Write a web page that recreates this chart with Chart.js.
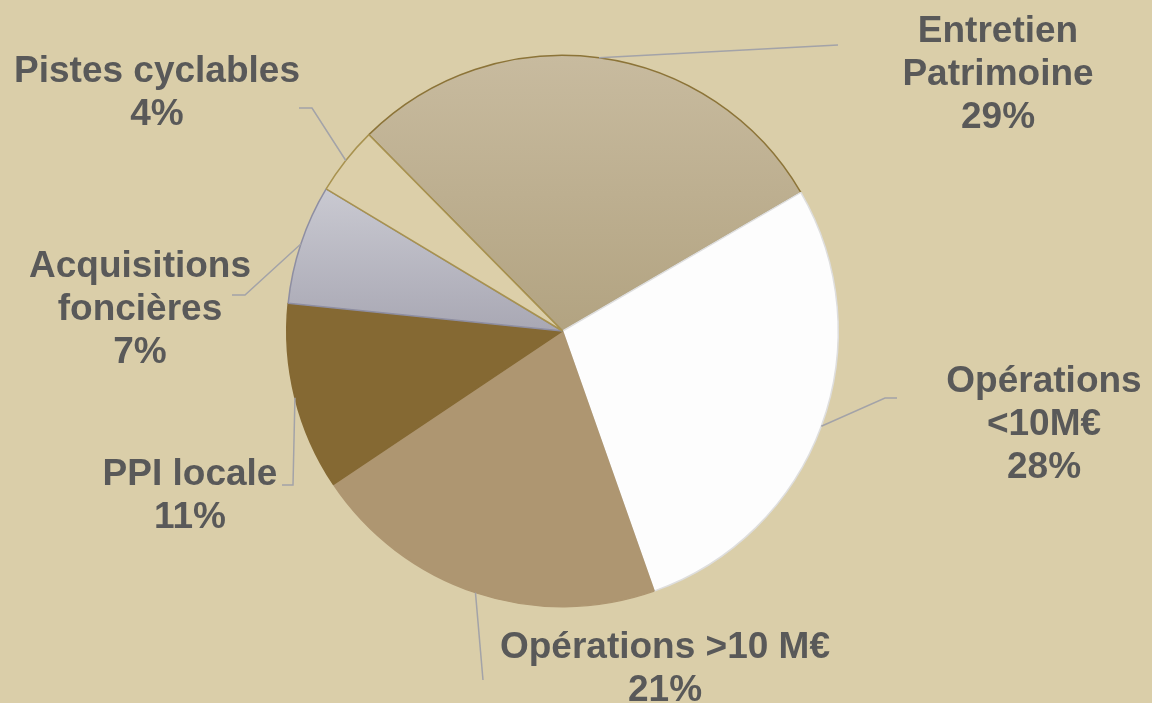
<!DOCTYPE html>
<html>
<head>
<meta charset="utf-8">
<script src="https://cdn.jsdelivr.net/npm/chart.js@4"></script>
<style>
  html, body { margin: 0; padding: 0; background: #dacea9; }
  #wrap { width: 1152px; height: 703px; position: relative; }
</style>
</head>
<body>
<div id="wrap"><canvas id="camembert" width="1152" height="703"></canvas></div>
<script>
// Répartition (%)
const categories = ['Entretien Patrimoine', 'Opérations <10M€', 'Opérations >10 M€', 'PPI locale', 'Acquisitions foncières', 'Pistes cyclables'];
const parts = [29, 28, 21, 11, 7, 4];
const labelLines = [['Entretien', 'Patrimoine'], ['Opérations', '<10M€'], ['Opérations >10 M€'], ['PPI locale'], ['Acquisitions', 'foncières'], ['Pistes cyclables']];

// placement des étiquettes (x centre, ligne de base de la 1re ligne) et coudes des traits
const labelPos = [[998, 42], [1044, 392], [665, 658], [190, 485], [140, 277], [157, 82]];
const leaderPts = [
  [[838, 45]],
  [[885, 398], [897, 398]],
  [[483, 680]],
  [[293, 485], [282, 485]],
  [[245, 295], [232, 295]],
  [[312, 108], [299, 108]]
];

function sliceColor(ctx) {
  const chart = ctx.chart;
  const area = chart.chartArea;
  if (!area) return '#ccc';
  const c = chart.ctx;
  const i = ctx.dataIndex;
  if (i === 0) {
    const g = c.createLinearGradient(0, area.top, 0, area.top + 280);
    g.addColorStop(0, '#c8bb9f');
    g.addColorStop(1, '#b2a381');
    return g;
  }
  if (i === 4) {
    const g = c.createLinearGradient(0, 190, 0, 330);
    g.addColorStop(0, '#c9c9d1');
    g.addColorStop(1, '#a9a8b4');
    return g;
  }
  return ['', '#fdfdfd', '#ae9671', '#856933', '', '#dccfa9'][i];
}

const leaderPlugin = {
  id: 'etiquettes',
  afterDraw(chart) {
    const ctx = chart.ctx;
    const arcs = chart.getDatasetMeta(0).data;
    ctx.save();
    arcs.forEach((arc, i) => {
      const p = arc.getProps(['x', 'y', 'startAngle', 'endAngle', 'outerRadius'], true);
      const mid = (p.startAngle + p.endAngle) / 2;
      const sx = p.x + Math.cos(mid) * p.outerRadius;
      const sy = p.y + Math.sin(mid) * p.outerRadius;
      ctx.strokeStyle = '#a3a3a8';
      ctx.lineWidth = 1.5;
      ctx.beginPath();
      ctx.moveTo(sx, sy);
      leaderPts[i].forEach(pt => ctx.lineTo(pt[0], pt[1]));
      ctx.stroke();

      const lines = labelLines[i].concat([parts[i] + '%']);
      ctx.fillStyle = '#595959';
      ctx.font = 'bold 37px "Liberation Sans", Arial, sans-serif';
      ctx.textAlign = 'center';
      ctx.textBaseline = 'alphabetic';
      lines.forEach((t, k) => ctx.fillText(t, labelPos[i][0], labelPos[i][1] + k * 43));
    });
    ctx.restore();
  }
};

new Chart(document.getElementById('camembert').getContext('2d'), {
  type: 'pie',
  data: {
    labels: categories,
    datasets: [{
      data: parts,
      backgroundColor: sliceColor,
      borderColor: ['#8c7438', '#dedede', '#ae9671', '#856933', '#8e8ea2', '#a8924f'],
      borderWidth: 1.5
    }]
  },
  options: {
    responsive: false,
    animation: false,
    rotation: -44.6,
    layout: { padding: { left: 286, right: 313, top: 54, bottom: 95 } },
    plugins: {
      legend: { display: false },
      tooltip: { enabled: false }
    }
  },
  plugins: [leaderPlugin]
});
</script>
</body>
</html>
